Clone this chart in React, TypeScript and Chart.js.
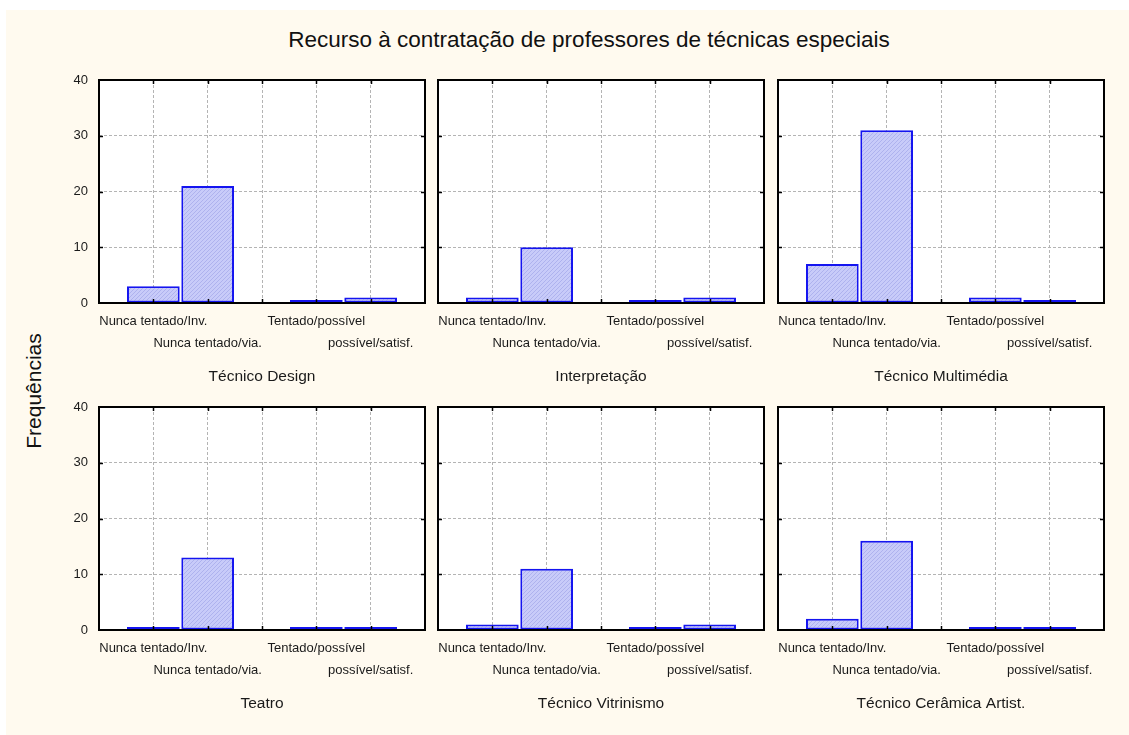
import React, { useEffect, useRef } from "react";
import { Chart, registerables } from "chart.js";

Chart.register(...registerables);

// ---------------- data ----------------
const chartTitle = "Recurso à contratação de professores de técnicas especiais";
const yAxisTitle = "Frequências";
const categories = ["Nunca tentado/Inv.", "Nunca tentado/via.", "", "Tentado/possível", "possível/satisf."];
const panelTitles = [
  "Técnico Design",
  "Interpretação",
  "Técnico Multimédia",
  "Teatro",
  "Técnico Vitrinismo",
  "Técnico Cerâmica Artist.",
];
const tecnicoDesign = [3, 21, null, 0, 1];
const interpretacao = [1, 10, null, 0, 1];
const tecnicoMultimedia = [7, 31, null, 1, 0];
const teatro = [0, 13, null, 0, 0];
const tecnicoVitrinismo = [1, 11, null, 0, 1];
const tecnicoCeramica = [2, 16, null, 0, 0];
const yMin = 0;
const yMax = 40;
const yStep = 10;

const panelValues = [tecnicoDesign, interpretacao, tecnicoMultimedia, teatro, tecnicoVitrinismo, tecnicoCeramica];

// ---------------- layout / style ----------------
const FONT = "'Liberation Sans', Arial, Helvetica, sans-serif";
const PLOT_W = 326;
const PLOT_H = 223;
const Y_AXIS_W = 40;
const X_AXIS_H = 90;
const PAD_TOP = 12;
const PAD_RIGHT = 6;
const plotLefts = [99, 438, 778];
const plotTops = [80, 407];

function makePattern(): CanvasPattern | string {
  const c = document.createElement("canvas");
  c.width = 4;
  c.height = 4;
  const g = c.getContext("2d");
  if (!g) return "#c3c6f6";
  g.fillStyle = "#c8cbf9";
  g.fillRect(0, 0, 4, 4);
  g.strokeStyle = "#aeb2ee";
  g.lineWidth = 1;
  g.beginPath();
  g.moveTo(0, 4);
  g.lineTo(4, 0);
  g.moveTo(-1, 1);
  g.lineTo(1, -1);
  g.moveTo(3, 5);
  g.lineTo(5, 3);
  g.stroke();
  const p = g.createPattern(c, "repeat");
  return p || "#c3c6f6";
}

const framePlugin = {
  id: "panelFrame",
  beforeDraw(chart: any) {
    const { ctx, chartArea: a } = chart;
    ctx.save();
    ctx.fillStyle = "#ffffff";
    ctx.fillRect(a.left, a.top, a.right - a.left, a.bottom - a.top);
    ctx.restore();
  },
  afterDatasetsDraw(chart: any) {
    const { ctx, chartArea: a } = chart;
    const xs = chart.scales.x;
    const ys = chart.scales.y;
    ctx.save();
    ctx.strokeStyle = "#000000";
    ctx.lineWidth = 1.5;
    ctx.beginPath();
    for (let i = 1; i < xs.ticks.length - 1; i++) {
      const px = Math.round(xs.getPixelForTick(i)) + 0.5;
      ctx.moveTo(px, a.top);
      ctx.lineTo(px, a.top + 4);
      ctx.moveTo(px, a.bottom);
      ctx.lineTo(px, a.bottom - 4);
    }
    for (let i = 1; i < ys.ticks.length - 1; i++) {
      const py = Math.round(ys.getPixelForTick(i)) + 0.5;
      ctx.moveTo(a.left, py);
      ctx.lineTo(a.left + 4, py);
      ctx.moveTo(a.right, py);
      ctx.lineTo(a.right - 4, py);
    }
    ctx.stroke();
    ctx.lineWidth = 2;
    ctx.strokeRect(a.left, a.top, a.right - a.left, a.bottom - a.top);
    ctx.restore();
  },
};

function Panel({ values, title, col, left, top }: { values: (number | null)[]; title: string; col: number; left: number; top: number }) {
  const ref = useRef<HTMLCanvasElement | null>(null);
  const width = Y_AXIS_W + PLOT_W + PAD_RIGHT;
  const height = PAD_TOP + PLOT_H + X_AXIS_H;

  useEffect(() => {
    if (!ref.current) return;
    const labels = ["", ...categories, ""];
    const data = [null, ...values, null];
    const tickText = (index: number) => {
      const lbl = labels[index];
      if (!lbl) return "";
      let k = 0;
      for (let i = 0; i < index; i++) if (labels[i]) k++;
      return k % 2 === 0 ? [lbl, ""] : ["", lbl];
    };
    const chart = new Chart(ref.current, {
      type: "bar",
      data: {
        labels,
        datasets: [
          {
            data,
            backgroundColor: makePattern() as any,
            borderColor: "#1414f0",
            borderWidth: 2,
            borderSkipped: false,
            barPercentage: 0.97,
            categoryPercentage: 1,
            minBarLength: 3,
          } as any,
        ],
      },
      options: {
        animation: false,
        responsive: false,
        maintainAspectRatio: false,
        devicePixelRatio: 1,
        events: [],
        layout: { padding: { top: PAD_TOP, right: PAD_RIGHT, left: 0, bottom: 0 } },
        plugins: {
          legend: { display: false },
          tooltip: { enabled: false },
          title: { display: false },
        },
        scales: {
          x: {
            type: "category",
            offset: false,
            grid: { offset: false, color: "#b4b4b4", lineWidth: 1, drawTicks: false },
            border: { display: false, dash: [3, 2] },
            ticks: {
              autoSkip: false,
              maxRotation: 0,
              minRotation: 0,
              padding: 7,
              color: "#1a1a1a",
              font: { family: FONT, size: 13, lineHeight: 22 / 13 },
              callback: (_v: any, index: number) => tickText(index),
            },
            title: {
              display: true,
              text: title,
              color: "#1a1a1a",
              font: { family: FONT, size: 15.5, lineHeight: 1.2 },
              padding: { top: 0, bottom: 7 },
            },
            afterFit: (s: any) => {
              s.height = X_AXIS_H;
              s.paddingLeft = 0;
              s.paddingRight = 0;
            },
          } as any,
          y: {
            min: yMin,
            max: yMax,
            grid: { color: "#b4b4b4", lineWidth: 1, drawTicks: false },
            border: { display: false, dash: [3, 2] },
            ticks: {
              stepSize: yStep,
              display: col === 0,
              padding: 11,
              color: "#1a1a1a",
              font: { family: FONT, size: 13 },
            },
            afterFit: (s: any) => {
              s.width = Y_AXIS_W;
              s.paddingTop = 0;
              s.paddingBottom = 0;
            },
          } as any,
        },
      },
      plugins: [framePlugin],
    });
    return () => chart.destroy();
  }, [values, title, col]);

  return (
    <canvas
      ref={ref}
      width={width}
      height={height}
      style={{ position: "absolute", left, top, width, height }}
    />
  );
}

export default function App() {
  return (
    <div style={{ position: "absolute", left: 0, top: 0, width: 1129, height: 735, background: "#ffffff", overflow: "hidden", fontFamily: FONT }}>
      <div style={{ position: "absolute", left: 6, top: 10, right: 0, bottom: 0, background: "#fffaef" }} />
      <div
        style={{
          position: "absolute",
          left: 589,
          top: 40,
          transform: "translate(-50%, -50%)",
          whiteSpace: "nowrap",
          fontSize: 22.5,
          color: "#111",
        }}
      >
        {chartTitle}
      </div>
      <div
        style={{
          position: "absolute",
          left: 34,
          top: 391,
          transform: "translate(-50%, -50%) rotate(-90deg)",
          whiteSpace: "nowrap",
          fontSize: 21,
          color: "#111",
        }}
      >
        {yAxisTitle}
      </div>
      {panelValues.map((vals, i) => {
        const col = i % 3;
        const row = Math.floor(i / 3);
        return (
          <Panel
            key={i}
            values={vals}
            title={panelTitles[i]}
            col={col}
            left={plotLefts[col] - Y_AXIS_W}
            top={plotTops[row] - PAD_TOP}
          />
        );
      })}
    </div>
  );
}
